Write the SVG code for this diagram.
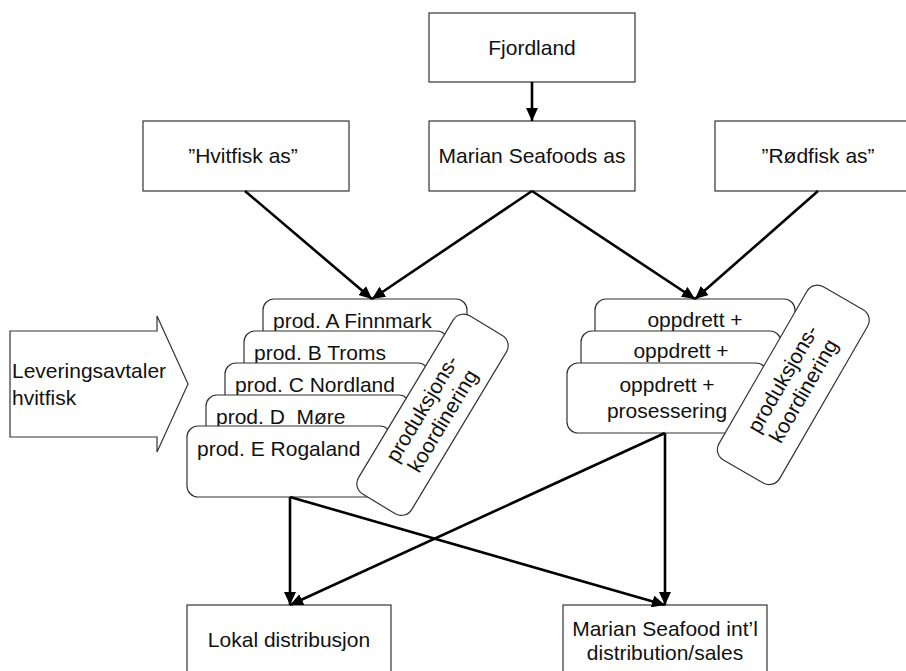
<svg xmlns="http://www.w3.org/2000/svg" width="906" height="671" viewBox="0 0 906 671">
  <defs>
    <marker id="arrow" markerUnits="userSpaceOnUse" markerWidth="14" markerHeight="12" refX="13" refY="6" orient="auto">
      <path d="M0,0 L13,6 L0,12 z" fill="#000"/>
    </marker>
    <style>
      .box { fill: #fff; stroke: #333; stroke-width: 1.2; }
      .lbl { font-family: "Liberation Sans", Arial, sans-serif; font-size: 21px; fill: #111; }
      .mid { text-anchor: middle; }
      .edge { fill: none; stroke: #000; stroke-width: 2.6; marker-end: url(#arrow); }
    </style>
  </defs>
  <rect width="906" height="671" fill="#fff"/>

  <!-- top level companies -->
  <g id="fjordland">
    <rect class="box" x="429" y="13" width="206" height="69"/>
    <text class="lbl mid" x="532" y="55">Fjordland</text>
  </g>
  <g id="hvitfisk">
    <rect class="box" x="143" y="121" width="206" height="70"/>
    <text class="lbl mid" x="243" y="163">”Hvitfisk as”</text>
  </g>
  <g id="marian">
    <rect class="box" x="429" y="121" width="206" height="70"/>
    <text class="lbl mid" x="532" y="163">Marian Seafoods as</text>
  </g>
  <g id="rodfisk">
    <rect class="box" x="715" y="121" width="206" height="70"/>
    <text class="lbl mid" x="818" y="163">”Rødfisk as”</text>
  </g>

  <!-- supply agreement arrow -->
  <g id="leveringsavtaler">
    <path class="box" d="M10,331 L157,331 L157,316 L188,384 L157,452 L157,437 L10,437 z"/>
    <text class="lbl" x="12" y="378">Leveringsavtaler</text>
    <text class="lbl" x="12" y="405">hvitfisk</text>
  </g>

  <!-- whitefish producers -->
  <g id="prod-a">
    <rect class="box" x="263" y="299" width="204" height="71" rx="11"/>
    <text class="lbl" x="273" y="328">prod. A Finnmark</text>
  </g>
  <g id="prod-b">
    <rect class="box" x="244" y="331" width="204" height="71" rx="11"/>
    <text class="lbl" x="254" y="360">prod. B Troms</text>
  </g>
  <g id="prod-c">
    <rect class="box" x="225" y="363" width="204" height="71" rx="11"/>
    <text class="lbl" x="235" y="392">prod. C Nordland</text>
  </g>
  <g id="prod-d">
    <rect class="box" x="206" y="395" width="204" height="71" rx="11"/>
    <text class="lbl" x="216" y="424" xml:space="preserve">prod. D  Møre</text>
  </g>
  <g id="prod-e">
    <rect class="box" x="187" y="426" width="204" height="71" rx="11"/>
    <text class="lbl" x="197" y="456">prod. E Rogaland</text>
  </g>
  <g id="koord-left" transform="translate(432.5 414.75) rotate(-59)">
    <rect class="box" x="-104" y="-31" width="208" height="62" rx="12"/>
    <text class="lbl mid" x="0" y="-5">produksjons-</text>
    <text class="lbl mid" x="0" y="19">koordinering</text>
  </g>

  <!-- farming units -->
  <g id="oppdrett-1">
    <rect class="box" x="595" y="299" width="200" height="70" rx="11"/>
    <text class="lbl mid" x="695" y="327">oppdrett +</text>
  </g>
  <g id="oppdrett-2">
    <rect class="box" x="581" y="331" width="200" height="70" rx="11"/>
    <text class="lbl mid" x="681" y="358">oppdrett +</text>
  </g>
  <g id="oppdrett-3">
    <rect class="box" x="567" y="363" width="200" height="70" rx="11"/>
    <text class="lbl mid" x="667" y="392">oppdrett +</text>
    <text class="lbl mid" x="667" y="418">prosessering</text>
  </g>
  <g id="koord-right" transform="translate(793.3 384.9) rotate(-60)">
    <rect class="box" x="-100" y="-35" width="200" height="70" rx="12"/>
    <text class="lbl mid" x="0" y="-5">produksjons-</text>
    <text class="lbl mid" x="0" y="19">koordinering</text>
  </g>

  <!-- distribution -->
  <g id="lokal">
    <rect class="box" x="187" y="605" width="204" height="70"/>
    <text class="lbl mid" x="289" y="647">Lokal distribusjon</text>
  </g>
  <g id="intl">
    <rect class="box" x="563" y="605" width="204" height="70"/>
    <text class="lbl mid" x="665" y="636">Marian Seafood int’l</text>
    <text class="lbl mid" x="665" y="660">distribution/sales</text>
  </g>

  <!-- connectors -->
  <g id="connectors">
    <line class="edge" x1="532" y1="82" x2="532" y2="121"/>
    <line class="edge" x1="245" y1="191" x2="372" y2="299"/>
    <line class="edge" x1="532" y1="191" x2="372" y2="299"/>
    <line class="edge" x1="532" y1="191" x2="695" y2="299"/>
    <line class="edge" x1="818" y1="191" x2="695" y2="299"/>
    <line class="edge" x1="290" y1="497" x2="290" y2="605"/>
    <line class="edge" x1="290" y1="497" x2="665" y2="605"/>
    <line class="edge" x1="665" y1="433" x2="665" y2="605"/>
    <line class="edge" x1="665" y1="433" x2="290" y2="605"/>
  </g>
</svg>
